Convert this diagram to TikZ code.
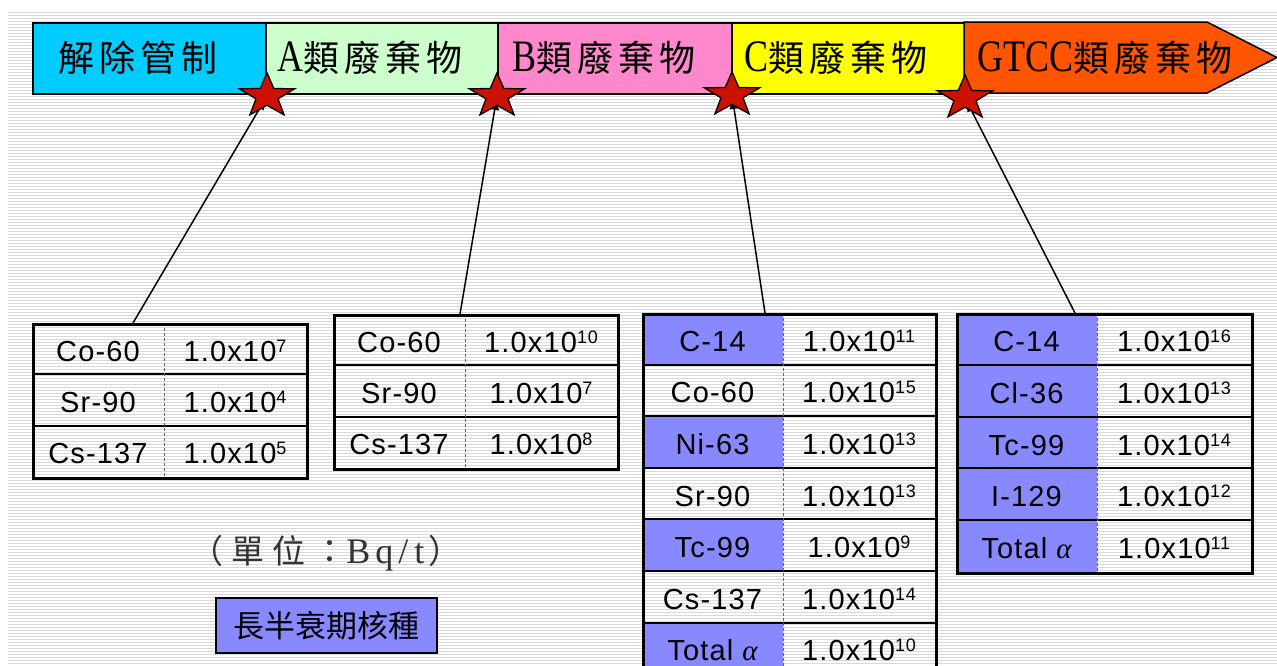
\documentclass[tikz,border=0pt]{standalone}
\usepackage{fontspec}
\usepackage{graphicx}
\setsansfont[LetterSpace=4]{Liberation Sans}
\newfontfamily\cjk[LetterSpace=14]{Noto Sans CJK TC}
\newfontfamily\cjkwide[LetterSpace=24]{Noto Sans CJK TC}
\newfontfamily\cjkplain{Noto Sans CJK TC}
\newfontfamily\ser{Liberation Serif}
\usetikzlibrary{shapes.geometric,arrows.meta}
\definecolor{bcyan}{HTML}{00CCFF}
\definecolor{bgreen}{HTML}{CCFFCC}
\definecolor{bpink}{HTML}{FF88CC}
\definecolor{byellow}{HTML}{FFFF00}
\definecolor{borange}{HTML}{FF5500}
\definecolor{cellpurple}{HTML}{8888FF}
\definecolor{starred}{HTML}{CC1100}
\pgfdeclarelayer{bg}
\pgfdeclarelayer{conn}
\pgfsetlayers{bg,conn,main}
\newcommand\latn[1]{\scalebox{1}[1.25]{\ser\fontsize{36}{36}\selectfont #1}}
\newcommand\sups[1]{\raisebox{9pt}{\fontsize{18}{18}\selectfont #1}}
\newcommand\mkstar[3]{\begin{scope}[shift={(#2,#3)},yscale=0.8]\node[redstar] (#1) at (0,0) {};\end{scope}}
% #1 name, #2 xl, #3 xd, #4 xr, #5 yt, #6 rowh, #7 nrows, #8 rows
\newcommand\nuctable[8]{%
  \foreach \lab/\ex/\pur [count=\i] in {#8} {
    \pgfmathsetmacro\ya{#5+(\i-1)*#6}
    \pgfmathsetmacro\yb{#5+\i*#6}
    \ifnum\pur=1 \fill[cellpurple] (#2,\ya) rectangle (#3,\yb); \fi
    \node[celltext] (#1n\i) at ({(#2+#3)/2},{(\ya+\yb)/2}) {\lab};
    \node[celltext] (#1v\i) at ({(#3+#4)/2},{(\ya+\yb)/2}) {1.0x10\sups{\ex}};
    \ifnum\i>1 \draw[rowline] (#2,\ya) -- (#4,\ya); \fi
  }
  \draw[coldiv] (#3,#5) -- (#3,{#5+#7*#6});
  \node[tframe, minimum width={(#4-#2)*1pt}, minimum height={#7*#6*1pt}] (#1) at (#2,#5) {};
}
\begin{document}
\begin{tikzpicture}[x=1pt,y=-1pt,
  stripe/.style={draw=black!15, line width=1pt},
  bbox/.style={draw=black, line width=1.5pt, minimum height=71pt, inner sep=0, anchor=north west},
  btext/.style={font=\cjk\fontsize{36}{36}\selectfont, inner sep=0, anchor=west, text=black},
  redstar/.style={star, star points=5, star point ratio=2.5, minimum size=58pt, inner sep=0,
    fill=starred, draw=black, line width=1.3pt, transform shape},
  conn/.style={draw=black, line width=1.5pt, -{Latex[length=14pt,width=9pt]}},
  celltext/.style={font=\sffamily\fontsize{29}{29}\selectfont, inner sep=0, text height=25pt, text depth=0pt},
  rowline/.style={draw=black, line width=2pt},
  coldiv/.style={draw=black!60, line width=0.8pt, dash pattern=on 3pt off 2pt},
  tframe/.style={draw=black, line width=3pt, inner sep=0, anchor=north west}]
\useasboundingbox (0,0) rectangle (1277,665);
\clip (0,0) rectangle (1277,665);
\begin{pgfonlayer}{bg}
\fill[white] (0,0) rectangle (1277,665);
\foreach \yy in {12,15,...,665} \draw[stripe] (8,\yy) -- (1277,\yy);
\end{pgfonlayer}

% banner
\node[bbox, fill=bcyan, minimum width=233pt] (b1) at (32,22) {};
\node[bbox, fill=bgreen, minimum width=232pt] (b2) at (265,22) {};
\node[bbox, fill=bpink, minimum width=234pt] (b3) at (497,22) {};
\node[bbox, fill=byellow, minimum width=233pt] (b4) at (731,22) {};
\draw[draw=black, line width=1.5pt, fill=borange] (964,22) -- (1207,22) -- (1277,57.5) -- (1207,93) -- (964,93) -- cycle;
\node[btext] (l1) at (58,57.5) {解除管制};
\node[btext] (l2) at (277,57.5) {\latn{A}類廢棄物};
\node[btext] (l3) at (512,57.5) {\latn{B}類廢棄物};
\node[btext] (l4) at (744,57.5) {\latn{C}類廢棄物};
\node[btext] (l5) at (977,57.5) {\latn{GTCC}類廢棄物};

% tables
\nuctable{t1}{32}{164}{306}{323}{51.3}{3}{Co-60/7/0, Sr-90/4/0, Cs-137/5/0}
\nuctable{t2}{333}{465}{617}{314}{51.3}{3}{Co-60/10/0, Sr-90/7/0, Cs-137/8/0}
\nuctable{t3}{642}{783}{935}{313}{51.6}{7}{C-14/11/1, Co-60/15/0, Ni-63/13/1, Sr-90/13/0, Tc-99/9/1, Cs-137/14/0, Total {\ser\itshape α}/10/1}
\nuctable{t4}{956}{1097}{1251}{313}{51.8}{5}{C-14/16/1, Cl-36/13/1, Tc-99/14/1, I-129/12/1, Total {\ser\itshape α}/11/1}

% stars
\mkstar{s1}{267}{96}
\mkstar{s2}{497}{96}
\mkstar{s3}{732}{95}
\mkstar{s4}{965}{98}

% connectors
\coordinate (c1) at (133,323);
\coordinate (c2) at (460,314);
\coordinate (c3) at (765,313);
\coordinate (c4) at (1075,313);
\begin{pgfonlayer}{conn}
\draw[conn] (c1) -- (s1.center);
\draw[conn] (c2) -- (s2.center);
\draw[conn] (c3) -- (s3.center);
\draw[conn] (c4) -- (s4.center);
\end{pgfonlayer}

% unit and key
\node[font=\cjkwide\fontsize{33}{33}\selectfont, text=black!80, inner sep=0] (unit) at (326,553)
  {（單位：{\ser\fontsize{36}{36}\selectfont B\hspace{5pt}q\hspace{5pt}/\hspace{6pt}t\hspace{4pt}}）};
\node[draw=black, line width=1.5pt, fill=cellpurple, minimum width=221pt, minimum height=55pt, inner sep=0,
  font=\cjkplain\fontsize{31}{31}\selectfont] (key) at (326.5,625.5) {長半衰期核種};
\end{tikzpicture}
\end{document}
